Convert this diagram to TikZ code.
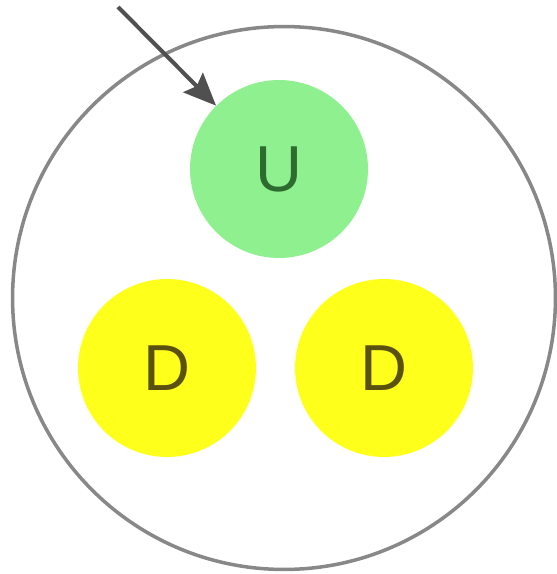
\documentclass[tikz,border=0pt]{standalone}
\usepackage{fontspec}
\setsansfont{Liberation Sans}
\usetikzlibrary{arrows.meta}
\definecolor{ugreen}{HTML}{8EF08E}
\definecolor{dyellow}{HTML}{FFFF1C}
\definecolor{utext}{HTML}{2E6B2E}
\definecolor{dtext}{HTML}{5A5010}
\definecolor{rim}{HTML}{888888}
\definecolor{arr}{HTML}{505050}
\begin{document}
\begin{tikzpicture}[x=0.02cm, y=-0.02cm,
    quark/.style={circle, minimum size=3.56cm, inner sep=0pt,
        font=\fontsize{37}{37}\sffamily},
    upq/.style={quark, fill=ugreen, text=utext},
    downq/.style={quark, fill=dyellow, text=dtext}]
    \useasboundingbox (0,0) rectangle (557,574);

    % 外圈
    \node[circle, draw=rim, line width=2pt, minimum size=10.86cm,
        inner sep=0pt] (hadron) at (284,298) {};

    % 三个夸克
    \node[upq] (U) at (279,169) {U};
    \node[downq] (D1) at (167,368) {D};
    \node[downq] (D2) at (384,368) {D};

    % 箭头
    \coordinate (src) at (118,7);
    \draw[arr, line width=2.3pt, -{Stealth[length=0.65cm, width=0.55cm, inset=0.1cm]}]
        (src) -- (U);
\end{tikzpicture}
\end{document}
